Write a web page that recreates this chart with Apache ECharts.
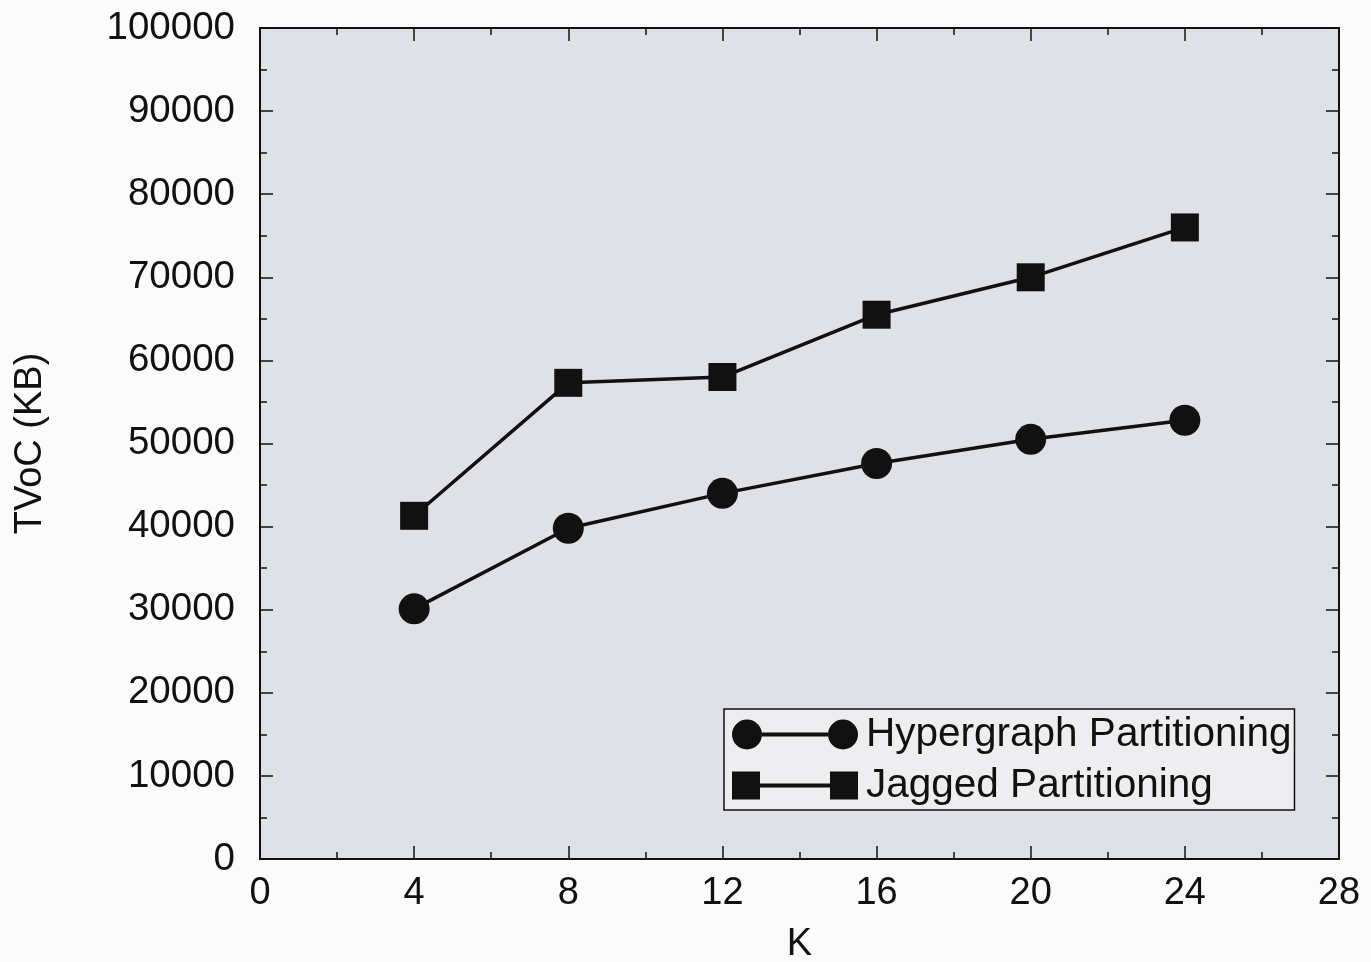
<!DOCTYPE html>
<html>
<head>
<meta charset="utf-8">
<script src="https://cdn.jsdelivr.net/npm/echarts@6/dist/echarts.min.js"></script>
<style>
html,body{margin:0;padding:0;background:#fbfbfb;}
#chart{width:1371px;height:962px;}
</style>
</head>
<body>
<div id="chart"></div>
<script>
const kValues = [4, 8, 12, 16, 20, 24];
const hypergraph = [30100, 39800, 44000, 47600, 50500, 52800];
const jagged = [41300, 57300, 58000, 65500, 70000, 76000];
const seriesNames = ['Hypergraph Partitioning', 'Jagged Partitioning'];
const xAxisName = 'K';
const yAxisName = 'TVoC (KB)';

const FONT = "'Liberation Sans', Arial, Helvetica, sans-serif";
const INK = '#111';

const circleIcon = 'path://M0,15a15,15 0 1,0 30,0a15,15 0 1,0 -30,0Z M30,13h66v4h-66Z M96,15a15,15 0 1,0 30,0a15,15 0 1,0 -30,0Z';
const squareIcon = 'path://M0,1h28v28h-28Z M28,13h70v4h-70Z M98,1h28v28h-28Z';

function pairs(xs, ys) { return xs.map((x, i) => [x, ys[i]]); }

const axisCommon = {
  axisLine: { show: true, onZero: false, lineStyle: { color: INK, width: 2 } },
  axisTick: { show: true, inside: true, length: 13, lineStyle: { color: INK, width: 1.5 } },
  minorTick: { show: true, splitNumber: 2, length: 7, lineStyle: { color: INK, width: 1.5 } },
  splitLine: { show: false },
  minorSplitLine: { show: false }
};

const chart = echarts.init(document.getElementById('chart'), null, { renderer: 'canvas' });
chart.setOption({
  backgroundColor: '#fbfbfb',
  animation: false,
  textStyle: { fontFamily: FONT, color: INK },
  grid: {
    left: 260, right: 32, top: 28, bottom: 103,
    show: true, backgroundColor: '#dfe1e7', borderWidth: 0,
    containLabel: false, outerBoundsMode: 'none'
  },
  legend: {
    orient: 'vertical',
    left: 724, top: 709,
    padding: [5, 3, 4, 8],
    itemGap: 10,
    itemWidth: 126, itemHeight: 30,
    backgroundColor: '#eeeef1',
    borderColor: INK, borderWidth: 1.5,
    textStyle: { fontSize: 40.5, fontFamily: FONT, color: INK, padding: [0, 0, 0, 3] },
    data: [
      { name: seriesNames[0], icon: circleIcon },
      { name: seriesNames[1], icon: squareIcon }
    ]
  },
  xAxis: [
    Object.assign({
      type: 'value', position: 'bottom', min: 0, max: 28, interval: 4,
      name: xAxisName, nameLocation: 'middle', nameGap: 67,
      nameTextStyle: { fontSize: 38, fontFamily: FONT, color: INK },
      axisLabel: { fontSize: 38, fontFamily: FONT, color: INK, margin: 16, formatter: v => String(v) }
    }, axisCommon),
    Object.assign({
      type: 'value', position: 'top', min: 0, max: 28, interval: 4,
      axisLabel: { show: false }
    }, axisCommon)
  ],
  yAxis: [
    Object.assign({
      type: 'value', position: 'left', min: 0, max: 100000, interval: 10000,
      name: yAxisName, nameLocation: 'middle', nameGap: 210, nameRotate: 90,
      nameTextStyle: { fontSize: 38, fontFamily: FONT, color: INK },
      axisLabel: { fontSize: 38.5, fontFamily: FONT, color: INK, margin: 25, formatter: v => String(v) }
    }, axisCommon),
    Object.assign({
      type: 'value', position: 'right', min: 0, max: 100000, interval: 10000,
      axisLabel: { show: false }
    }, axisCommon)
  ],
  series: [
    {
      name: seriesNames[0], type: 'line', xAxisIndex: 0, yAxisIndex: 0,
      data: pairs(kValues, hypergraph),
      symbol: 'circle', symbolSize: 31,
      lineStyle: { color: INK, width: 3.5 },
      itemStyle: { color: INK },
      z: 5
    },
    {
      name: seriesNames[1], type: 'line', xAxisIndex: 0, yAxisIndex: 0,
      data: pairs(kValues, jagged),
      symbol: 'rect', symbolSize: 28,
      lineStyle: { color: INK, width: 3.5 },
      itemStyle: { color: INK },
      z: 5
    }
  ]
});
</script>
</body>
</html>
